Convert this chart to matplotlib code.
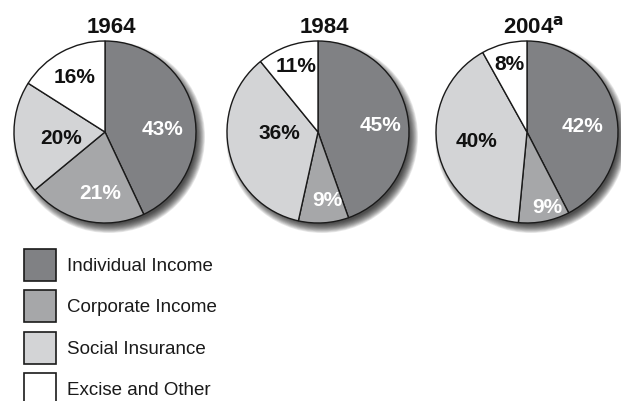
import matplotlib
matplotlib.use("Agg")
import matplotlib.pyplot as plt
from matplotlib.patches import Circle, Rectangle
import numpy as np

years = ["1964", "1984", "2004"]
categories = ["Individual Income", "Corporate Income", "Social Insurance", "Excise and Other"]
shares_1964 = [43, 21, 20, 16]
shares_1984 = [45, 9, 36, 11]
shares_2004 = [42, 9, 40, 8]
all_shares = [shares_1964, shares_1984, shares_2004]

colors = ["#808184", "#a6a7a9", "#d3d4d6", "#ffffff"]
text_colors = ["white", "white", "#111111", "#111111"]
# label placement (fraction of radius, angular nudge in degrees)
label_dist = [[0.63, 0.67, 0.49, 0.70],
              [0.69, 0.75, 0.42, 0.77],
              [0.62, 0.85, 0.56, 0.78]]
label_nudge = [[8.6, -7.9, -2.9, 0.0],
               [2.6, -3.9, 11.9, 1.6],
               [6.6, -4.0, 2.0, 0.0]]

W, H = 621, 402
fig = plt.figure(figsize=(W / 100, H / 100), dpi=100)
ax = fig.add_axes([0, 0, 1, 1])

centers_x = [105, 318, 527]
cy = 133
r = 91

for i, (yr, vals) in enumerate(zip(years, all_shares)):
    cx = centers_x[i]
    # soft drop shadow (down-right)
    n = 12
    for k in range(n):
        ax.add_patch(Circle((cx + 4, cy + 5), r + 5 - k * 0.8,
                            color="black", alpha=0.09, lw=0, zorder=1))
    # y axis is inverted: start at visual top (-90 in data) and run visually clockwise
    wedges, _ = ax.pie(vals, colors=colors, startangle=-90, counterclock=True,
                       center=(cx, cy), radius=r,
                       wedgeprops=dict(edgecolor="#1a1a1a", linewidth=1.0, zorder=2),
                       frame=True)
    for j, w in enumerate(wedges):
        w.set_zorder(2)
        ang = np.deg2rad((w.theta1 + w.theta2) / 2 + label_nudge[i][j])
        d = label_dist[i][j] * r
        tx = cx + d * np.cos(ang)
        ty = cy + d * np.sin(ang)
        ax.text(tx, ty, f"{vals[j]}%", ha="center", va="center", fontsize=15,
                fontweight="bold", color=text_colors[j], zorder=3,
                family="Liberation Sans")
    title = yr + "$^{\\mathbf{a}}$" if yr == "2004" else yr
    ax.text(cx + 6, 33, title, ha="center", va="baseline", fontsize=16,
            fontweight="bold", family="Liberation Sans", color="#111111")

# legend
leg_y = [266, 307, 349, 390]
for k, (cat, col) in enumerate(zip(categories, colors)):
    yy = leg_y[k]
    ax.add_patch(Rectangle((24, yy - 16), 32, 32, facecolor=col, edgecolor="#1a1a1a",
                           lw=1.2, zorder=2))
    ax.text(67, yy + 1, cat, ha="left", va="center", fontsize=13.5,
            family="Liberation Sans", color="#1a1a1a")

ax.set_xlim(0, W)
ax.set_ylim(H, 0)
ax.set_aspect("auto")
ax.axis("off")

fig.savefig("out.png", dpi=100)
